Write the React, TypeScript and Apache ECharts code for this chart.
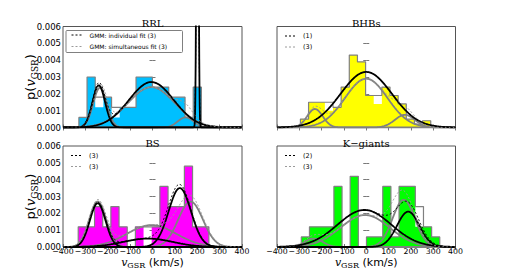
import React, { useEffect, useRef } from 'react';
import * as echarts from 'echarts';

// ---------- data ----------
const X_MIN = -400;
const X_MAX = 400;
const Y_MAX = 0.006;

// RRL
const rrlEdges = [-329, -292.5, -256, -219.5, -183, -146.5, -110, -73.5, -37, -0.5, 36, 72.5, 109, 145.5, 182, 218.5];
const rrlFilled = [0.0006, 0.003, 0.0012, 0.0018, 0.0006, 0.0012, 0.0012, 0.003, 0.003, 0.0024, 0.0024, 0.0018, 0.0018, 0.0006, 0.0024];
const rrlOutline = [0.0006, 0.003, 0.0018, 0.0018, 0.0012, 0.0012, 0.0012, 0.003, 0.003, 0.0024, 0.0024, 0.0018, 0.0018, 0.0006, 0.0024];
// Gaussian components: [mean, sigma, peak height]
const rrlIndividual = [[-240, 28, 0.0025], [-5, 100, 0.0027], [201, 4, 0.03]];
const rrlSimultaneous = [[-235, 30, 0.00236], [-5, 105, 0.0024], [148, 35, 0.0006]];

// BHBs
const bhbEdges = [-295, -258.5, -222, -185.5, -149, -112.5, -76, -39.5, -3, 33.5, 70, 106.5, 143, 179.5, 216, 252.5, 289];
const bhbFilled = [0.0005, 0.0015, 0.0015, 0.001, 0.0012, 0.0024, 0.0043, 0.0039, 0.0019, 0.0014, 0.0024, 0.0019, 0.0014, 0.0005, 0.0002, 0.0004];
const bhbOutline = [0.0005, 0.0015, 0.0015, 0.0015, 0.0012, 0.0024, 0.0043, 0.0039, 0.0019, 0.0019, 0.0024, 0.0019, 0.0014, 0.0005, 0.0002, 0.0004];
const bhbIndividual = [[0, 115, 0.0033]];
const bhbSimultaneous = [[-230, 35, 0.0011], [0, 95, 0.0029], [173, 45, 0.00075]];

// BS
const bsEdges = [-332, -295.5, -259, -222.5, -186, -149.5, -113, -76.5, -40, -3.5, 33, 69.5, 106, 142.5, 179, 215.5, 252];
const bsFilled = [0.0012, 0.0012, 0.0024, 0.0012, 0.0024, 0.0012, 0, 0.0012, 0, 0.0012, 0.0036, 0.0024, 0.0024, 0.0048, 0.0012, 0.0012];
const bsOutline = [0.0012, 0.0012, 0.0024, 0.0012, 0.0024, 0.0012, 0, 0.0012, 0.0012, 0.0012, 0.0036, 0.0024, 0.0024, 0.0048, 0.0012, 0.0012];
const bsIndividual = [[-245, 35, 0.0026], [-20, 110, 0.0005], [122, 50, 0.0035]];
const bsSimultaneous = [[-245, 38, 0.0027], [-4, 110, 0.0013], [170, 55, 0.0027]];

// K-giants
const kgEdges = [-291, -254.5, -218, -181.5, -145, -108.5, -72, -35.5, 1, 37.5, 74, 110.5, 147, 183.5, 220, 256.5, 293, 329.5];
const kgFilled = [0.0006, 0.0012, 0.0012, 0.0012, 0.0036, 0, 0.0042, 0, 0.0006, 0.0006, 0.0036, 0.0006, 0.0036, 0.0036, 0.0012, 0.0012, 0.0006];
const kgOutline = [0.0006, 0.0012, 0.0012, 0.0012, 0.0036, 0, 0.0042, 0, 0.0006, 0.0006, 0.0036, 0.0006, 0.0036, 0.0036, 0.0024, 0.0012, 0.0006];
const kgIndividual = [[-8, 120, 0.0022], [188, 50, 0.0021]];
const kgSimultaneous = [[-235, 40, 0.0005], [-5, 110, 0.0019], [168, 50, 0.0028]];

const titles = ['RRL', 'BHBs', 'BS', 'K\u2212giants'];
const legendIndividual = ['GMM: individual fit (3)', '(1)', '(3)', '(2)'];
const legendSimultaneous = ['GMM: simultaneous fit (3)', '(3)', '(3)', '(3)'];
const fillColors = ['#00BFFF', '#FFFF00', '#FF00FF', '#00FF00'];

const panels = [
  { edges: rrlEdges, filled: rrlFilled, outline: rrlOutline, ind: rrlIndividual, sim: rrlSimultaneous },
  { edges: bhbEdges, filled: bhbFilled, outline: bhbOutline, ind: bhbIndividual, sim: bhbSimultaneous },
  { edges: bsEdges, filled: bsFilled, outline: bsOutline, ind: bsIndividual, sim: bsSimultaneous },
  { edges: kgEdges, filled: kgFilled, outline: kgOutline, ind: kgIndividual, sim: kgSimultaneous },
];

// ---------- layout ----------
const GRIDS = [
  { left: 63, top: 26.5, width: 179, height: 101 },
  { left: 277, top: 26.5, width: 178.5, height: 101 },
  { left: 63, top: 146, width: 179, height: 101 },
  { left: 277, top: 146, width: 178.5, height: 101 },
];

const FRAME = '#555555';
const GRAY = '#808080';

function gauss(comps: number[][], x: number): number {
  let s = 0;
  for (const c of comps) {
    const z = (x - c[0]) / c[1];
    s += c[2] * Math.exp(-0.5 * z * z);
  }
  return s;
}

const XS: number[] = [];
for (let x = X_MIN; x <= X_MAX; x += 1) XS.push(x);

function curve(comps: number[][]) {
  return XS.map((x) => [x, gauss(comps, x)]);
}

function histPoints(edges: number[], h: number[], closeStart: boolean) {
  const pts: number[][] = [];
  if (closeStart) pts.push([edges[0], 0]);
  for (let i = 0; i < h.length; i++) pts.push([edges[i], h[i]]);
  pts.push([edges[edges.length - 1], 0]);
  return pts;
}

function buildOption() {
  const grid = GRIDS.map((g) => ({
    ...g,
    show: true,
    borderColor: FRAME,
    borderWidth: 1,
    backgroundColor: '#ffffff',
    containLabel: false,
  }));
  const xAxis: any[] = [];
  const yAxis: any[] = [];
  const series: any[] = [];
  const tickStyle = { show: true, inside: true, length: 3, lineStyle: { color: FRAME, width: 0.8 } };
  GRIDS.forEach((_, p) => {
    const bottomRow = p >= 2;
    const leftCol = p % 2 === 0;
    xAxis.push({
      type: 'value', gridIndex: p, min: X_MIN, max: X_MAX, interval: 100, position: 'bottom',
      axisLine: { show: false }, splitLine: { show: false }, axisTick: tickStyle,
      axisLabel: {
        show: bottomRow, margin: 0, fontSize: 7.8, fontFamily: 'DejaVu Sans', color: '#000',
        showMinLabel: true, showMaxLabel: true, hideOverlap: false,
        formatter: (v: number) => String(v).replace('-', '\u2212'),
      },
    });
    xAxis.push({
      type: 'value', gridIndex: p, min: X_MIN, max: X_MAX, interval: 100, position: 'top',
      axisLine: { show: false }, splitLine: { show: false }, axisTick: tickStyle, axisLabel: { show: false },
    });
    yAxis.push({
      type: 'value', gridIndex: p, min: 0, max: Y_MAX, interval: 0.001, position: 'left',
      axisLine: { show: false }, splitLine: { show: false }, axisTick: tickStyle,
      axisLabel: {
        show: leftCol, margin: 2, fontSize: 8.5, fontFamily: 'DejaVu Sans', color: '#000',
        showMinLabel: true, showMaxLabel: true,
        formatter: (v: number) => v.toFixed(3),
      },
    });
    yAxis.push({
      type: 'value', gridIndex: p, min: 0, max: Y_MAX, interval: 0.001, position: 'right',
      axisLine: { show: false }, splitLine: { show: false }, axisTick: tickStyle, axisLabel: { show: false },
    });

    const d = panels[p];
    const base = { xAxisIndex: 2 * p, yAxisIndex: 2 * p, showSymbol: false, symbol: 'none', silent: true };
    series.push({
      ...base, type: 'line', step: 'end', data: histPoints(d.edges, d.filled, false),
      lineStyle: { width: 0, opacity: 0 }, areaStyle: { color: fillColors[p], opacity: 1 }, z: 1,
    });
    series.push({
      ...base, type: 'line', step: 'end', data: histPoints(d.edges, d.outline, true),
      lineStyle: { width: 1.2, color: GRAY }, z: 2,
    });
    d.sim.forEach((c) => {
      series.push({ ...base, type: 'line', data: curve([c]), lineStyle: { width: 1.8, color: GRAY }, z: 3 });
    });
    d.ind.forEach((c) => {
      series.push({ ...base, type: 'line', data: curve([c]), lineStyle: { width: 1.8, color: '#000' }, z: 4 });
    });
    series.push({ ...base, type: 'line', data: curve(d.sim), lineStyle: { width: 1, color: '#9a9a9a', type: [2, 2] }, z: 5 });
    series.push({ ...base, type: 'line', data: curve(d.ind), lineStyle: { width: 1, color: '#000', type: [2, 2] }, z: 6 });
  });

  const graphic: any[] = [];
  const richV = {
    a: { fontFamily: 'DejaVu Sans', fontSize: 13, lineHeight: 18, verticalAlign: 'middle', fill: '#000' },
    b: { fontFamily: 'DejaVu Serif', fontStyle: 'italic', fontSize: 13, lineHeight: 18, verticalAlign: 'middle', fill: '#000' },
    c: { fontFamily: 'DejaVu Serif', fontSize: 9, lineHeight: 10, verticalAlign: 'bottom', fill: '#000' },
  };
  const richX = {
    a: { fontFamily: 'DejaVu Sans', fontSize: 11, lineHeight: 15, verticalAlign: 'middle', fill: '#000' },
    b: { fontFamily: 'DejaVu Serif', fontStyle: 'italic', fontSize: 11, lineHeight: 15, verticalAlign: 'middle', fill: '#000' },
    c: { fontFamily: 'DejaVu Serif', fontSize: 8, lineHeight: 9, verticalAlign: 'bottom', fill: '#000' },
  };
  GRIDS.forEach((g, p) => {
    graphic.push({
      type: 'text', x: g.left + g.width / 2, y: g.top + 2,
      style: { text: titles[p], font: '10px "DejaVu Serif"', fill: '#000', align: 'center', verticalAlign: 'bottom' },
    });
    // legend
    const lx = p === 0 ? 71.5 : g.left + 8;
    const rows = p === 0 ? [g.top + 8.5, g.top + 20] : [g.top + 9.5, g.top + 20.5];
    if (p === 0) {
      graphic.push({
        type: 'rect', shape: { x: g.left + 3, y: g.top + 4, width: 116.5, height: 22, r: 1 },
        style: { fill: '#fff', stroke: GRAY, lineWidth: 1 }, z: 10,
      });
    }
    graphic.push({ type: 'line', shape: { x1: lx, y1: rows[0], x2: lx + 11, y2: rows[0] }, style: { stroke: '#000', lineWidth: 1, lineDash: [2, 2] }, z: 11 });
    graphic.push({ type: 'line', shape: { x1: lx, y1: rows[1], x2: lx + 11, y2: rows[1] }, style: { stroke: '#9a9a9a', lineWidth: 1, lineDash: [2, 2] }, z: 11 });
    const fs = p === 0 ? 6 : 6.5;
    graphic.push({ type: 'text', x: lx + 18, y: rows[0], style: { text: legendIndividual[p], font: `${fs}px "DejaVu Sans"`, fill: '#000', verticalAlign: 'middle' }, z: 11 });
    graphic.push({ type: 'text', x: lx + 18, y: rows[1], style: { text: legendSimultaneous[p], font: `${fs}px "DejaVu Sans"`, fill: '#000', verticalAlign: 'middle' }, z: 11 });
    if (p % 2 === 0) {
      graphic.push({
        type: 'text', x: 30, y: g.top + g.height / 2, rotation: Math.PI / 2,
        style: { text: '{a|p(}{b|v}{c|GSR}{a|)}', rich: richV, align: 'center', verticalAlign: 'middle' },
      });
    }
    if (p >= 2) {
      graphic.push({
        type: 'text', x: g.left + g.width / 2, y: 262,
        style: { text: '{b|v}{c|GSR}{a| (km/s)}', rich: richX, align: 'center', verticalAlign: 'middle' },
      });
    }
  });

  return { animation: false, backgroundColor: '#ffffff', grid, xAxis, yAxis, series, graphic };
}

export default function App() {
  const ref = useRef<HTMLDivElement>(null);
  useEffect(() => {
    if (!ref.current) return;
    const chart = echarts.init(ref.current, undefined, { renderer: 'svg' });
    chart.setOption(buildOption() as any);
    return () => chart.dispose();
  }, []);
  return (
    <div
      ref={ref}
      style={{ position: 'fixed', left: 0, top: 0, width: 506, height: 276, background: '#fff' }}
    />
  );
}
